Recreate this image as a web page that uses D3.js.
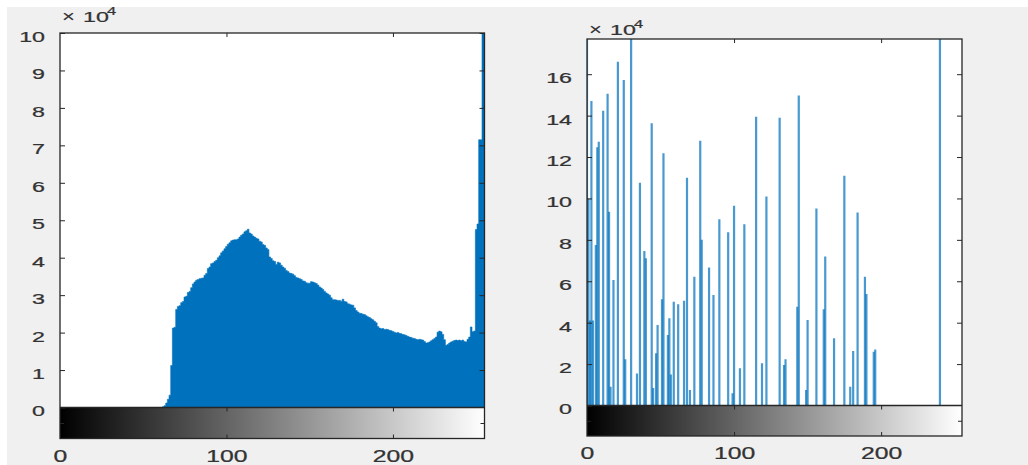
<!DOCTYPE html>
<html>
<head>
<meta charset="utf-8">
<script src="https://cdn.jsdelivr.net/npm/d3@7"></script>
<style>
  html, body { margin: 0; padding: 0; background: #fff; }
  svg { display: block; }
  text { font-family: "Liberation Sans", Arial, sans-serif; fill: #333; stroke: #333; stroke-width: 0.25px; }
</style>
</head>
<body>
<svg id="fig" width="1028" height="465"></svg>
<script>

// histogram of the original image, bins 0..255, counts in units of 1e4
const countsOrig = [
  0, 0, 0, 0, 0, 0, 0, 0, 0, 0,
  0, 0, 0, 0, 0, 0, 0, 0, 0, 0,
  0, 0, 0, 0, 0, 0, 0, 0, 0, 0,
  0, 0, 0, 0, 0, 0, 0, 0, 0, 0,
  0, 0, 0, 0, 0, 0, 0, 0, 0, 0,
  0, 0, 0, 0, 0, 0, 0, 0, 0, 0,
  0, 0, 0.02, 0.05, 0.12, 0.22, 0.33, 1.12, 2.12, 2.14,
  2.62, 2.70, 2.72, 2.80, 2.83, 2.95, 2.97, 3.07, 3.10, 3.20,
  3.30, 3.35, 3.40, 3.42, 3.44, 3.45, 3.46, 3.53, 3.58, 3.71,
  3.75, 3.84, 3.86, 3.90, 3.93, 4.00, 4.05, 4.13, 4.18, 4.24,
  4.30, 4.36, 4.40, 4.45, 4.47, 4.48, 4.48, 4.50, 4.55, 4.60,
  4.63, 4.69, 4.72, 4.76, 4.66, 4.63, 4.58, 4.55, 4.52, 4.50,
  4.44, 4.42, 4.35, 4.33, 4.26, 4.22, 4.02, 3.98, 3.92, 3.90,
  3.82, 3.88, 3.86, 3.80, 3.75, 3.72, 3.66, 3.63, 3.59, 3.58,
  3.56, 3.52, 3.47, 3.46, 3.44, 3.42, 3.38, 3.37, 3.33, 3.32,
  3.32, 3.36, 3.35, 3.33, 3.31, 3.27, 3.22, 3.19, 3.15, 3.10,
  3.06, 3.03, 3.00, 2.93, 2.88, 2.88, 2.87, 2.86, 2.86, 2.84,
  2.89, 2.83, 2.82, 2.77, 2.76, 2.74, 2.73, 2.66, 2.59, 2.55,
  2.52, 2.51, 2.49, 2.48, 2.45, 2.42, 2.40, 2.37, 2.34, 2.30,
  2.26, 2.16, 2.12, 2.10, 2.11, 2.08, 2.09, 2.08, 2.06, 2.05,
  2.03, 2.01, 1.99, 2.00, 1.98, 1.97, 1.95, 1.94, 1.92, 1.90,
  1.88, 1.87, 1.85, 1.84, 1.82, 1.81, 1.82, 1.81, 1.80, 1.76,
  1.72, 1.73, 1.75, 1.78, 1.81, 1.84, 1.88, 2.01, 2.04, 2.02,
  1.95, 1.81, 1.66, 1.68, 1.72, 1.75, 1.77, 1.79, 1.80, 1.79,
  1.80, 1.78, 1.80, 1.76, 1.75, 1.82, 1.88, 2.15, 2.02, 2.04,
  4.75, 4.90, 7.15, 7.15, 10.6, 10.6
];

// histogram after equalisation: only the occupied bins, counts in units of 1e4
const eqBins = [
  0, 1, 2, 3, 4, 6, 7, 8, 11, 14, 15, 16, 18, 21, 25, 26, 30, 34,
  36, 39, 40, 44, 45, 47, 48, 51, 52, 55, 56, 57, 59, 62, 66, 68,
  70, 73, 77, 78, 83, 86, 90, 96, 99, 100, 104, 107, 115, 119, 122,
  131, 134, 135, 143, 144, 149, 150, 156, 161, 162, 168, 175, 179,
  181, 184, 189, 190, 195, 196, 240
];
const eqCounts = [
  19.5, 10.0, 4.1, 14.7, 4.1, 7.75, 12.47, 12.74, 14.23, 15.05, 9.36, 0.91, 6.06, 16.6, 15.72, 2.23, 19.5, 1.55,
  10.76, 7.46, 7.11, 13.63, 0.84, 2.52, 3.89, 5.13, 12.18, 3.4, 4.21, 1.5, 5.01, 4.89, 5.06, 11.0,
  0.75, 6.22, 12.79, 8.0, 6.67, 5.34, 9.0, 8.37, 0.59, 9.65, 1.8, 8.75, 13.95, 2.04, 10.09,
  13.9, 1.95, 2.23, 4.77, 14.97, 0.75, 4.13, 9.52, 4.65, 7.19, 3.25, 11.1, 0.91,
  2.63, 9.32, 6.22, 5.39, 2.6, 2.7, 19.5
];

const xTicks = [0, 100, 200];
const yTicksOrig = [0, 1, 2, 3, 4, 5, 6, 7, 8, 9, 10];
const yTicksEq = [0, 2, 4, 6, 8, 10, 12, 14, 16];
const expLabel = "10";
const expPower = "4";

const BLUE = "#0072BD";
const INK = "#262626";
const SX = 1.5;   // the reference text is stretched sideways
const FS = "15.5px";
const FS_X = "16.5px";

const svg = d3.select("#fig");

svg.append("rect").attr("x", 7).attr("y", 7).attr("width", 1021).attr("height", 458).attr("fill", "#f0f0f0");

const defs = svg.append("defs");
const grad = defs.append("linearGradient").attr("id", "gray").attr("x1", "0%").attr("x2", "100%");
grad.append("stop").attr("offset", "0%").attr("stop-color", "#000");
grad.append("stop").attr("offset", "100%").attr("stop-color", "#fff");

function stretchText(sel, dx, dy, size) {
  sel.attr("x", null).attr("y", null).attr("dy", null)
    .attr("transform", `translate(${dx},${dy}) scale(${SX},1)`)
    .attr("dominant-baseline", "central")
    .attr("fill", null)
    .style("font-size", size);
}

function panel(cfg) {
  const g = svg.append("g");
  const x = d3.scaleLinear().domain([0, 255]).range([cfg.left, cfg.right]);
  const y = d3.scaleLinear().domain([0, cfg.ymax]).range([cfg.zero, cfg.top]);
  const w = cfg.right - cfg.left;

  g.append("rect").attr("x", cfg.left).attr("y", cfg.top)
    .attr("width", w).attr("height", cfg.zero - cfg.top).attr("fill", "#fff");

  const clipId = "clip" + cfg.id;
  defs.append("clipPath").attr("id", clipId).append("rect")
    .attr("x", cfg.left).attr("y", cfg.top).attr("width", w).attr("height", cfg.zero - cfg.top);

  const plot = g.append("g").attr("clip-path", `url(#${clipId})`);
  cfg.draw(plot, x, y);

  // colour bar under the histogram
  g.append("rect").attr("x", cfg.left).attr("y", cfg.zero)
    .attr("width", w).attr("height", cfg.cbBottom - cfg.zero)
    .attr("fill", "url(#gray)");

  // box
  g.append("rect").attr("x", cfg.left).attr("y", cfg.top)
    .attr("width", w).attr("height", cfg.cbBottom - cfg.top)
    .attr("fill", "none").attr("stroke", INK).attr("stroke-width", 1.3);
  g.append("line").attr("x1", cfg.left).attr("x2", cfg.right)
    .attr("y1", cfg.zero).attr("y2", cfg.zero)
    .attr("stroke", INK).attr("stroke-width", 1.3);

  // y axis left with labels
  const yl = g.append("g").attr("transform", `translate(${cfg.left},0)`)
    .call(d3.axisLeft(y).tickValues(cfg.yTicks).tickSize(-5).tickFormat(d3.format("d")));
  yl.select(".domain").remove();
  yl.selectAll("line").attr("stroke", INK);
  yl.selectAll("text").attr("text-anchor", "end").call(stretchText, -15, 3, FS);

  // y ticks right
  const yr = g.append("g").attr("transform", `translate(${cfg.right},0)`)
    .call(d3.axisRight(y).tickValues(cfg.yTicks.filter(d => d > 0)).tickSize(-5).tickFormat(""));
  yr.select(".domain").remove();
  yr.selectAll("line").attr("stroke", INK);

  // x ticks on top
  const xt = g.append("g").attr("transform", `translate(0,${cfg.top})`)
    .call(d3.axisTop(x).tickValues(xTicks.filter(d => d > 0)).tickSize(-4).tickFormat(""));
  xt.select(".domain").remove();
  xt.selectAll("line").attr("stroke", INK);

  // colour bar axes: ticks at its top edge, bottom edge and labels below
  const cbMid = d3.scaleLinear().domain([0, 1]).range([cfg.cbBottom, cfg.zero]);
  const xc = g.append("g").attr("transform", `translate(0,${cfg.zero})`)
    .call(d3.axisBottom(x).tickValues(xTicks.filter(d => d > 0)).tickSize(4).tickFormat(""));
  xc.select(".domain").remove();
  xc.selectAll("line").attr("stroke", INK);

  const xb = g.append("g").attr("transform", `translate(0,${cfg.cbBottom})`)
    .call(d3.axisBottom(x).tickValues(xTicks).tickSize(-4).tickFormat(d3.format("d")));
  xb.select(".domain").remove();
  xb.selectAll("line").attr("stroke", INK).filter(d => d === 0).remove();
  xb.selectAll("text").attr("text-anchor", "middle").call(stretchText, 0, cfg.xLabelDy, FS_X);

  const cl = g.append("g").attr("transform", `translate(${cfg.left},0)`)
    .call(d3.axisRight(cbMid).tickValues([0.5]).tickSize(4).tickFormat(""));
  cl.select(".domain").remove();
  cl.selectAll("line").attr("stroke", INK);
  const cr = g.append("g").attr("transform", `translate(${cfg.right},0)`)
    .call(d3.axisLeft(cbMid).tickValues([0.5]).tickSize(4).tickFormat(""));
  cr.select(".domain").remove();
  cr.selectAll("line").attr("stroke", INK);

  // exponent label
  const ex = cfg.expX, ey = cfg.expY;
  g.append("text").text("\u00d7").attr("text-anchor", "start")
    .attr("transform", `translate(${ex},${ey}) scale(1.3,1)`).style("font-size", "17px")
    .style("stroke-width", "0.1px");
  g.append("text").text(expLabel).attr("text-anchor", "start")
    .attr("transform", `translate(${ex + 21},${ey}) scale(${SX},1)`).style("font-size", FS);
  g.append("text").text(expPower).attr("text-anchor", "start")
    .attr("transform", `translate(${ex + 45},${ey - 7}) scale(${SX},1)`).style("font-size", "11px");
}

panel({
  id: "a", left: 60, right: 484.5, top: 33, zero: 407.5, cbBottom: 438.5, ymax: 10,
  yTicks: yTicksOrig, xLabelDy: 18, expX: 62, expY: 22,
  draw: (plot, x, y) => {
    const area = d3.area()
      .x((d, i) => x(i))
      .y0(y(0))
      .y1(d => y(d))
      .curve(d3.curveStep);
    plot.append("path").datum(countsOrig)
      .attr("d", area)
      .attr("fill", BLUE)
      .attr("stroke", BLUE)
      .attr("stroke-width", 0.6);
  }
});

panel({
  id: "b", left: 587, right: 962, top: 39, zero: 405.5, cbBottom: 436, ymax: 17.7,
  yTicks: yTicksEq, xLabelDy: 17.5, expX: 589, expY: 35,
  draw: (plot, x, y) => {
    plot.selectAll("line").data(eqBins).join("line")
      .attr("x1", d => x(d)).attr("x2", d => x(d))
      .attr("y1", y(0))
      .attr("y2", (d, i) => y(eqCounts[i]))
      .attr("stroke", BLUE)
      .attr("stroke-width", 2.2)
      .attr("stroke-opacity", 0.72);
  }
});

</script>
</body>
</html>
